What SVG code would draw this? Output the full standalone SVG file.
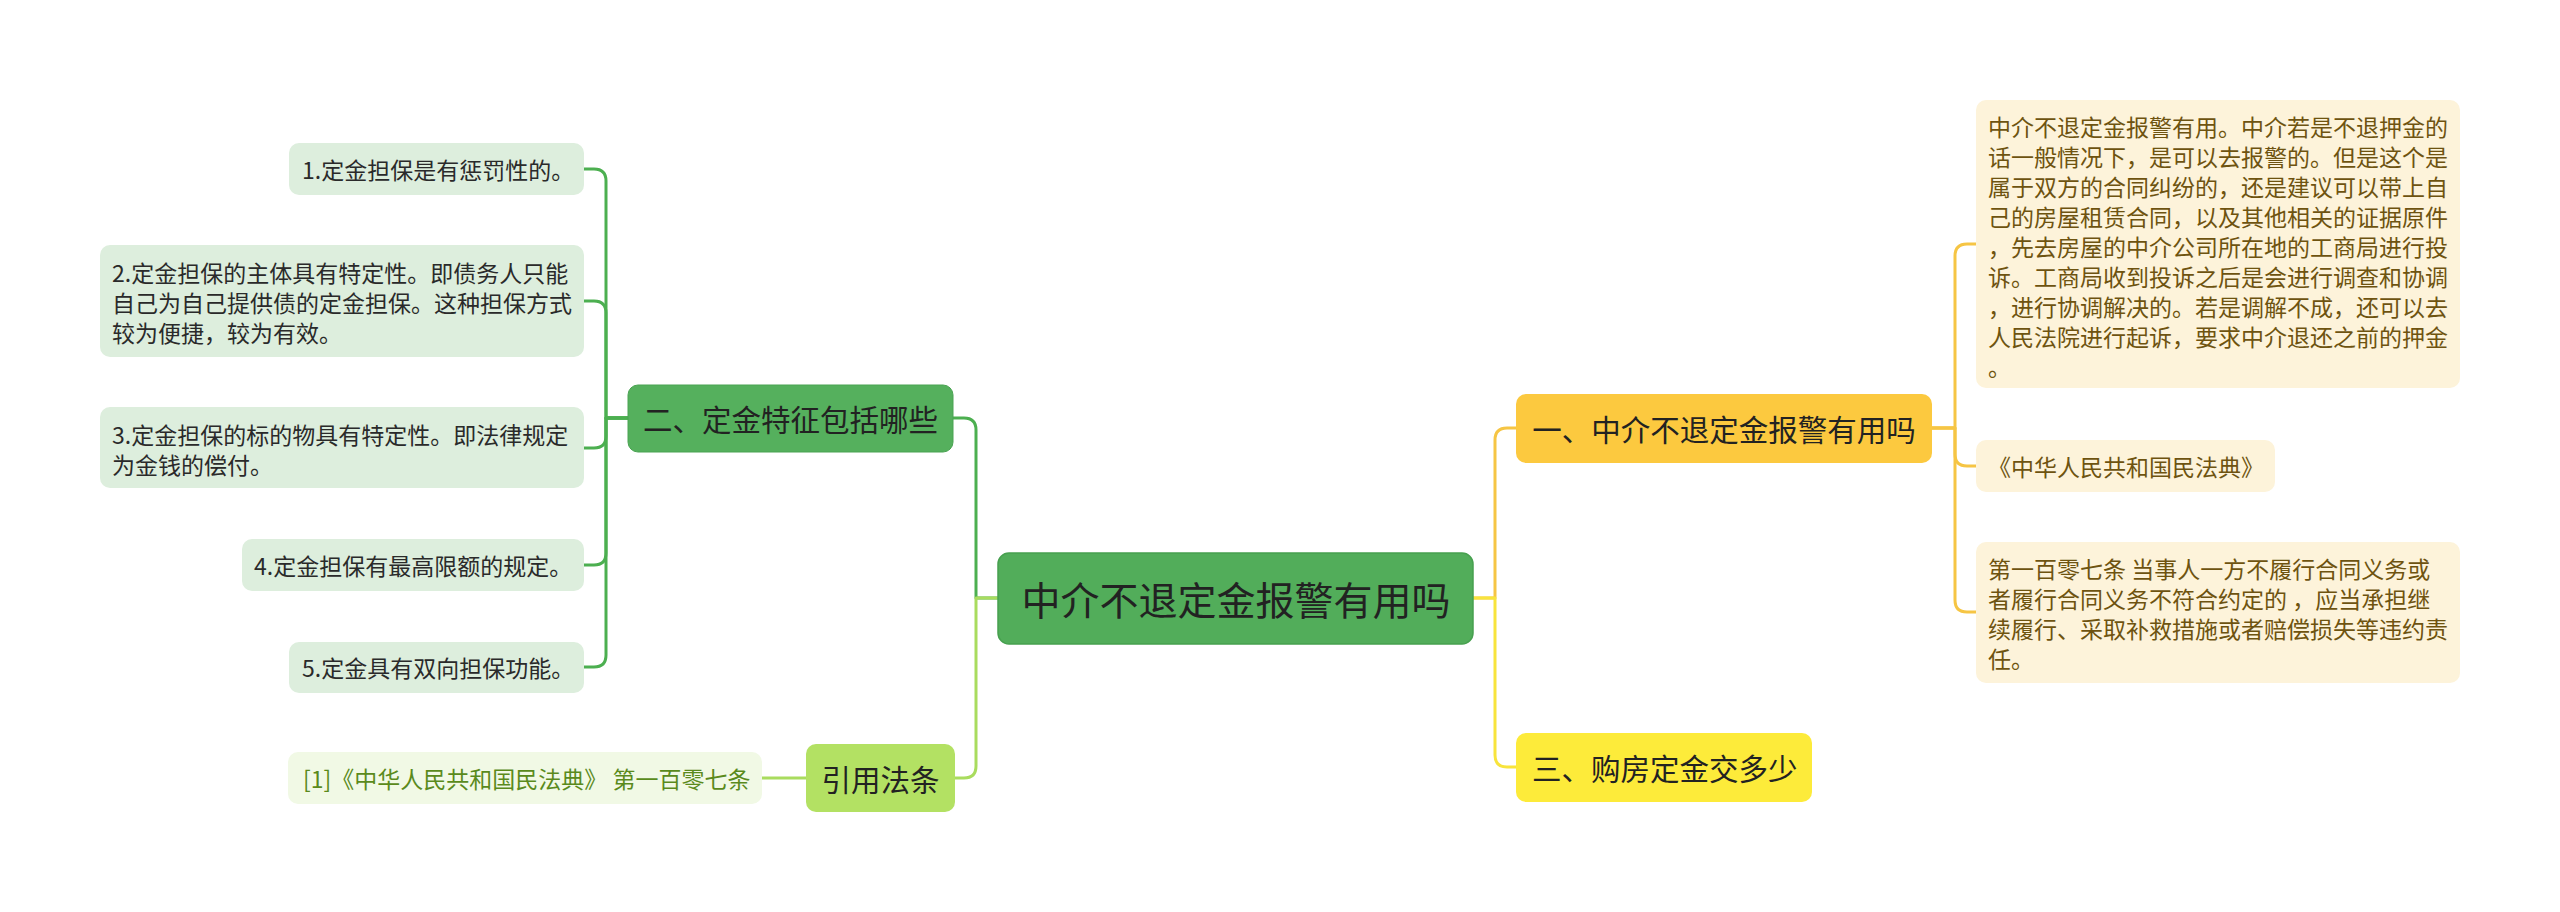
<svg xmlns="http://www.w3.org/2000/svg" width="2560" height="912" viewBox="0 0 2560 912">
<style>
text{font-family:"Noto Sans CJK SC","Noto Sans",sans-serif;dominant-baseline:central}
.c{fill:none;stroke-width:3;stroke-linecap:round;stroke-linejoin:round}
.t0{font-size:39px;fill:#222}
.t1{font-size:29.5px;fill:#222}
.t2{font-size:23px;fill:#2a2a2a}
.tb{font-size:23px;fill:#6e5310}
.tg{font-size:23px;fill:#5a8a1c}
</style>
<rect width="2560" height="912" fill="#ffffff"/>
<g id="connectors">
<path class="c" stroke="#4caf50" d="M998,598 H976 V430 Q976,418 964,418 H953"/>
<path class="c" stroke="#a9dc5e" d="M998,598 H976 V766 Q976,778 964,778 H955"/>
<path class="c" stroke="#f6c544" d="M1473,598 H1495 V440 Q1495,428 1507,428 H1516"/>
<path class="c" stroke="#f8e43c" d="M1473,598 H1495 V755 Q1495,767 1507,767 H1516"/>
<path class="c" stroke="#4caf50" d="M628,418 H606 V181 Q606,169 594,169 H584"/>
<path class="c" stroke="#4caf50" d="M628,418 H606 V313 Q606,301 594,301 H584"/>
<path class="c" stroke="#4caf50" d="M628,418 H606 V436 Q606,448 594,448 H584"/>
<path class="c" stroke="#4caf50" d="M628,418 H606 V553 Q606,565 594,565 H584"/>
<path class="c" stroke="#4caf50" d="M628,418 H606 V655 Q606,667 594,667 H584"/>
<path class="c" stroke="#a9dc5e" d="M806,778 H762"/>
<path class="c" stroke="#f6c544" d="M1932,428 H1955 V256 Q1955,244 1967,244 H1976"/>
<path class="c" stroke="#f6c544" d="M1932,428 H1955 V454 Q1955,466 1967,466 H1976"/>
<path class="c" stroke="#f6c544" d="M1932,428 H1955 V600 Q1955,612 1967,612 H1976"/>
</g>
<g id="root">
<rect x="998" y="553" width="475" height="91" rx="11" fill="#52ad5a" stroke="#47a04f" stroke-width="1.5"/>
<text class="t0" x="1236" y="598" text-anchor="middle">中介不退定金报警有用吗</text>
</g>
<g id="n2">
<rect x="628" y="385" width="325" height="67" rx="10" fill="#55b05d" stroke="#4aa352" stroke-width="1"/>
<text class="t1" x="790.5" y="418" text-anchor="middle">二、定金特征包括哪些</text>
</g>
<g id="n2-1">
<rect x="289" y="143" width="295" height="52" rx="10" fill="#ddeedd"/>
<text class="t2" x="302" y="169">1.定金担保是有惩罚性的。</text>
</g>
<g id="n2-2">
<rect x="100" y="245" width="484" height="112" rx="10" fill="#ddeedd"/>
<text class="t2" x="112" y="272">2.定金担保的主体具有特定性。即债务人只能</text>
<text class="t2" x="112" y="302">自己为自己提供债的定金担保。这种担保方式</text>
<text class="t2" x="112" y="332">较为便捷，较为有效。</text>
</g>
<g id="n2-3">
<rect x="100" y="407" width="484" height="81" rx="10" fill="#ddeedd"/>
<text class="t2" x="112" y="434">3.定金担保的标的物具有特定性。即法律规定</text>
<text class="t2" x="112" y="464">为金钱的偿付。</text>
</g>
<g id="n2-4">
<rect x="242" y="539" width="342" height="52" rx="10" fill="#ddeedd"/>
<text class="t2" x="254" y="565">4.定金担保有最高限额的规定。</text>
</g>
<g id="n2-5">
<rect x="289" y="642" width="295" height="51" rx="10" fill="#ddeedd"/>
<text class="t2" x="302" y="667">5.定金具有双向担保功能。</text>
</g>
<g id="n4">
<rect x="806" y="744" width="149" height="68" rx="10" fill="#b3e163"/>
<text class="t1" x="880.5" y="778" text-anchor="middle">引用法条</text>
</g>
<g id="n4-1">
<rect x="288" y="752" width="474" height="52" rx="10" fill="#f1f9e5"/>
<text class="tg" x="303" y="778">[1]《中华人民共和国民法典》 第一百零七条</text>
</g>
<g id="n1">
<rect x="1516" y="394" width="416" height="69" rx="10" fill="#fcc93f"/>
<text class="t1" x="1724" y="428" text-anchor="middle">一、中介不退定金报警有用吗</text>
</g>
<g id="n1-1">
<rect x="1976" y="100" width="484" height="288" rx="10" fill="#fdf3da"/>
<text class="tb" x="1988" y="126">中介不退定金报警有用。中介若是不退押金的</text>
<text class="tb" x="1988" y="156">话一般情况下，是可以去报警的。但是这个是</text>
<text class="tb" x="1988" y="186">属于双方的合同纠纷的，还是建议可以带上自</text>
<text class="tb" x="1988" y="216">己的房屋租赁合同，以及其他相关的证据原件</text>
<text class="tb" x="1988" y="246">，先去房屋的中介公司所在地的工商局进行投</text>
<text class="tb" x="1988" y="276">诉。工商局收到投诉之后是会进行调查和协调</text>
<text class="tb" x="1988" y="306">，进行协调解决的。若是调解不成，还可以去</text>
<text class="tb" x="1988" y="336">人民法院进行起诉，要求中介退还之前的押金</text>
<text class="tb" x="1988" y="366">。</text>
</g>
<g id="n1-2">
<rect x="1976" y="440" width="299" height="52" rx="10" fill="#fdf3da"/>
<text class="tb" x="1988" y="466">《中华人民共和国民法典》</text>
</g>
<g id="n1-3">
<rect x="1976" y="542" width="484" height="141" rx="10" fill="#fdf3da"/>
<text class="tb" x="1988" y="568">第一百零七条 当事人一方不履行合同义务或</text>
<text class="tb" x="1988" y="598">者履行合同义务不符合约定的 ，应当承担继</text>
<text class="tb" x="1988" y="628">续履行、采取补救措施或者赔偿损失等违约责</text>
<text class="tb" x="1988" y="658">任。</text>
</g>
<g id="n3">
<rect x="1516" y="733" width="296" height="69" rx="10" fill="#fdeb3a"/>
<text class="t1" x="1532" y="767">三、购房定金交多少</text>
</g>
</svg>
